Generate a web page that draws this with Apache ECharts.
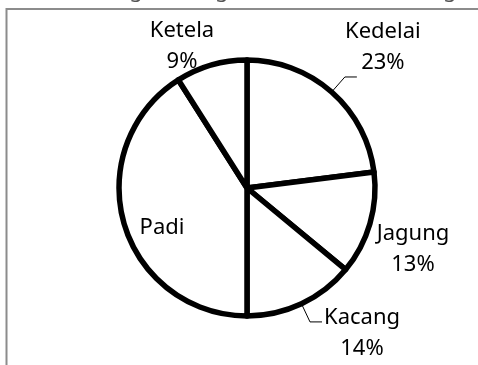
<!DOCTYPE html>
<html>
<head>
<meta charset="utf-8">
<script src="https://cdn.jsdelivr.net/npm/echarts@6/dist/echarts.min.js"></script>
<style>
  html, body { margin: 0; padding: 0; background: #fff; }
  #chart { width: 478px; height: 365px; }
</style>
</head>
<body>
<div id="chart"></div>
<script>
// Crop shares, clockwise from twelve o'clock
const categories = ['Kedelai', 'Jagung', 'Kacang', 'Padi', 'Ketela'];
const shares = [23, 13, 14, 41, 9];
// Padi's share is left blank on the chart (it is the unknown)
const showPercent = [true, true, true, false, true];
const withLeader = [true, false, true, false, false];

const FONT = '"Noto Sans", "DejaVu Sans", sans-serif';

// Where each label block sits: either relative to its leader-line end,
// or at a fixed spot beside/inside its slice.
const labelPlacement = {
  Kedelai: { fromLine: true, dx: 26, dy: -30 },
  Kacang:  { fromLine: true, dx: 40, dy: 11 },
  Jagung:  { x: 413, y: 249 },
  Ketela:  { x: 182, y: 46 },
  Padi:    { x: 162, y: 228 }
};

const seriesData = categories.map((name, i) => ({
  name: name,
  value: shares[i],
  label: {
    formatter: showPercent[i] ? '{b}\n{d}%' : '{b}'
  },
  labelLine: { show: withLeader[i] }
}));

const chart = echarts.init(document.getElementById('chart'), null, { renderer: 'canvas' });

chart.setOption({
  animation: false,
  backgroundColor: '#ffffff',
  graphic: [
    {
      type: 'text',
      left: -20,
      top: -20,
      silent: true,
      style: {
        text: 'Perhatikan diagram lingkaran berikut ini dengan seksama!',
        font: '22px ' + FONT,
        fill: '#555555'
      }
    },
    {
      type: 'polyline',
      silent: true,
      shape: { points: [[6.5, 365], [6.5, 9], [478, 9]] },
      style: { stroke: '#8c8c8c', lineWidth: 2, fill: null }
    }
  ],
  series: [{
    type: 'pie',
    center: [247, 188],
    radius: 128,
    startAngle: 90,
    clockwise: true,
    avoidLabelOverlap: false,
    percentPrecision: 0,
    itemStyle: {
      color: '#ffffff',
      borderColor: '#000000',
      borderWidth: 5.5
    },
    emphasis: { disabled: true },
    label: {
      show: true,
      position: 'outside',
      color: '#000000',
      fontFamily: FONT,
      fontSize: 22,
      lineHeight: 31,
      align: 'center'
    },
    labelLine: {
      length: 20,
      length2: 12,
      smooth: false,
      lineStyle: { color: '#000000', width: 1 }
    },
    labelLayout: function (params) {
      const name = categories[params.dataIndex];
      const p = labelPlacement[name];
      if (p.fromLine && params.labelLinePoints) {
        const end = params.labelLinePoints[params.labelLinePoints.length - 1];
        return {
          x: end[0] + p.dx,
          y: end[1] + p.dy,
          align: 'center',
          verticalAlign: 'middle',
          labelLinePoints: params.labelLinePoints
        };
      }
      return { x: p.x, y: p.y, align: 'center', verticalAlign: 'middle' };
    },
    data: seriesData
  }]
});
</script>
</body>
</html>
